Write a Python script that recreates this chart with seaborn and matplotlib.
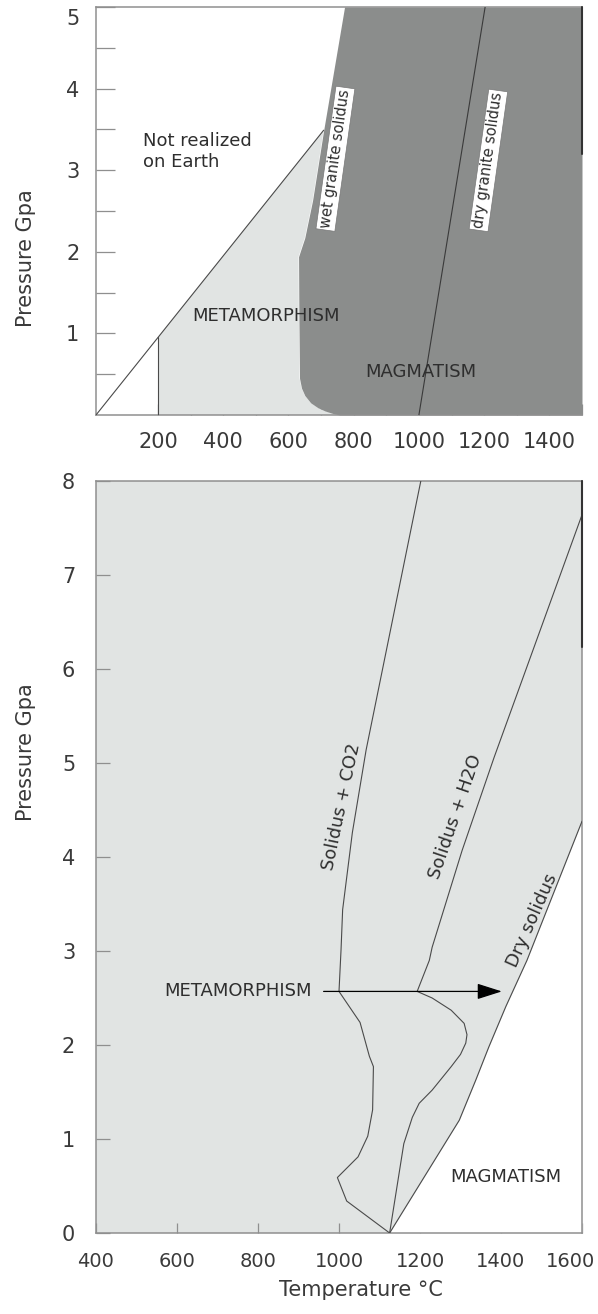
import numpy as np
import matplotlib
matplotlib.use("Agg")
import matplotlib.pyplot as plt
import matplotlib.transforms as mtransforms
import seaborn as sns

# ---- top panel: granite system (T in C, P in GPa) ----
top_major_t = [200, 400, 600, 800, 1000, 1200, 1400]
top_minor_t = [300, 500, 700, 900, 1100, 1300, 1500]
top_major_p = [1, 2, 3, 4, 5]
top_minor_p = [0.5, 1.5, 2.5, 3.5, 4.5]

wet_t = [757, 735, 712, 690, 668, 650, 640, 634, 632, 631, 640, 650, 674, 708, 772]
wet_p = [0.0, 0.02, 0.05, 0.09, 0.15, 0.24, 0.33, 0.45, 1.2, 1.94, 2.05, 2.17, 2.63, 3.49, 5.0]
earth_t = [10, 708]
earth_p = [0.0, 3.49]
low_t = [200, 200]
low_p = [0.0, 0.95]
dry_granite_t = [1000, 1203]
dry_granite_p = [0.0, 5.0]

# ---- bottom panel: peridotite solidi ----
bot_t_ticks = [400, 600, 800, 1000, 1200, 1400, 1600]
bot_p_ticks = [0, 1, 2, 3, 4, 5, 6, 7, 8]

co2_t = [1125, 1019, 996, 1047, 1071, 1083, 1085, 1075, 1052, 1000, 1005, 1009, 1033, 1067, 1202]
co2_p = [0.0, 0.34, 0.59, 0.81, 1.03, 1.31, 1.77, 1.88, 2.24, 2.57, 3.01, 3.44, 4.26, 5.14, 8.0]
h2o_t = [1125, 1160, 1181, 1198, 1230, 1277, 1300, 1313, 1316, 1309, 1277, 1230, 1193, 1223, 1230, 1304, 1383, 1600]
h2o_p = [0.0, 0.95, 1.23, 1.38, 1.52, 1.77, 1.90, 2.02, 2.11, 2.23, 2.37, 2.50, 2.57, 2.90, 3.04, 4.07, 5.06, 7.64]
dry_t = [1125, 1297, 1338, 1370, 1412, 1464, 1600]
dry_p = [0.0, 1.2, 1.63, 1.98, 2.41, 2.9, 4.38]

arrow_t = [962, 1402]
arrow_p = 2.57

LIGHT = "#e1e4e3"
DARK = "#8b8d8c"
LINE = "#4a4a4a"
TXT = "#2e2e2e"
SPINE = "#8f8f8f"
LBL = "#3a3a3a"

sns.set_theme(style="white")
plt.rcParams["font.family"] = ["DejaVu Sans"]

fig = plt.figure(figsize=(5.98, 13.14), dpi=100)
ax1 = fig.add_axes([96 / 598, 1 - 415 / 1314, 486 / 598, 408 / 1314])
ax2 = fig.add_axes([96 / 598, 1 - 1233 / 1314, 486 / 598, 752 / 1314])


def nudge(label, dx_px, dy_px):
    off = mtransforms.ScaledTranslation(dx_px / 100, dy_px / 100, fig.dpi_scale_trans)
    label.set_transform(label.get_transform() + off)


# ---------------- top panel ----------------
ax1.set_xlim(10, 1500)
ax1.set_ylim(0, 5)
ax1.set_facecolor("white")

# metamorphism field (between T=200, the earth limit and the wet solidus)
meta_t = np.concatenate([low_t, [earth_t[1]], wet_t[::-1][1:]])
meta_p = np.concatenate([low_p, [earth_p[1]], wet_p[::-1][1:]])
ax1.fill(meta_t, meta_p, color=LIGHT, lw=0, zorder=1)
# magmatism field
ax1.fill_betweenx(wet_p, wet_t, 1500, color=DARK, lw=0, zorder=2)

sns.lineplot(x=earth_t, y=earth_p, ax=ax1, color=LINE, lw=0.8, zorder=3)
sns.lineplot(x=low_t, y=low_p, ax=ax1, color=LINE, lw=0.8, zorder=3, sort=False, estimator=None)
sns.lineplot(x=dry_granite_t, y=dry_granite_p, ax=ax1, color="#3a3a3a", lw=0.8, zorder=3)
ax1.plot([1500, 1500], [3.2, 5], color="#333333", lw=1.5, zorder=4, clip_on=False)

ax1.text(153, 3.47, "Not realized\non Earth", ha="left", va="top", fontsize=13,
         color=TXT, linespacing=1.25)
ax1.text(532, 1.21, "METAMORPHISM", ha="center", va="center", fontsize=13, color=TXT, zorder=5)
ax1.text(1005, 0.53, "MAGMATISM", ha="center", va="center", fontsize=13, color=TXT, zorder=5)
box = dict(facecolor="white", edgecolor="#777777", lw=0.5, pad=1.5)
ax1.text(744, 3.14, "wet granite solidus", rotation=82, ha="center", va="center",
         fontsize=10.5, color=TXT, bbox=box, rotation_mode="anchor", zorder=5)
ax1.text(1213, 3.12, "dry granite solidus", rotation=82, ha="center", va="center",
         fontsize=10.5, color=TXT, bbox=box, rotation_mode="anchor", zorder=5)

ax1.set_xticks(top_major_t)
ax1.set_xticks(top_minor_t, minor=True)
ax1.set_yticks(top_major_p)
ax1.set_yticks(top_minor_p, minor=True)
ax1.tick_params(axis="x", which="both", direction="in", length=8, width=0.9,
                color=SPINE, labelcolor=LBL, labelsize=15, pad=12, bottom=True)
ax1.tick_params(axis="y", which="both", direction="in", length=14, width=0.9,
                color=SPINE, labelcolor=LBL, labelsize=15, pad=12, left=True)
for side in ["top", "bottom", "left"]:
    ax1.spines[side].set_color(SPINE)
    ax1.spines[side].set_linewidth(1.1)
ax1.spines["right"].set_visible(False)
ax1.set_xlabel("")
ax1.set_ylabel("Pressure Gpa", fontsize=15, color=LBL)
ax1.yaxis.set_label_coords(-0.123, 0.385)
nudge(ax1.get_yticklabels()[-1], 0, -10)

# ---------------- bottom panel ----------------
ax2.set_xlim(400, 1600)
ax2.set_ylim(0, 8)
ax2.set_facecolor(LIGHT)
ax2.fill_betweenx(dry_p, dry_t, 1600, color="white", lw=0, zorder=1)

sns.lineplot(x=co2_t, y=co2_p, ax=ax2, color=LINE, lw=0.8, sort=False, estimator=None, zorder=3)
sns.lineplot(x=h2o_t, y=h2o_p, ax=ax2, color=LINE, lw=0.8, sort=False, estimator=None, zorder=3)
sns.lineplot(x=dry_t, y=dry_p, ax=ax2, color=LINE, lw=0.8, sort=False, estimator=None, zorder=3)
ax2.plot([1600, 1600], [6.23, 8], color="#333333", lw=1.5, zorder=4, clip_on=False)

ax2.annotate("", xy=(arrow_t[1], arrow_p), xytext=(arrow_t[0], arrow_p),
             arrowprops=dict(arrowstyle="-|>,head_length=1.1,head_width=0.35",
                             mutation_scale=14, color="black", lw=0.9,
                             shrinkA=0, shrinkB=0), zorder=5)

ax2.text(750, 2.57, "METAMORPHISM", ha="center", va="center", fontsize=13, color=TXT)
ax2.text(1412, 0.6, "MAGMATISM", ha="center", va="center", fontsize=13, color=TXT)
ax2.text(1006, 4.54, "Solidus + CO2", rotation=78, ha="center", va="center",
         rotation_mode="anchor", fontsize=13, color=TXT)
ax2.text(1287, 4.43, "Solidus + H2O", rotation=71, ha="center", va="center",
         rotation_mode="anchor", fontsize=13, color=TXT)
ax2.text(1476, 3.33, "Dry solidus", rotation=66, ha="center", va="center",
         rotation_mode="anchor", fontsize=13, color=TXT)

ax2.set_xticks(bot_t_ticks)
ax2.set_yticks(bot_p_ticks)
ax2.tick_params(axis="x", direction="in", length=7, width=0.9, color=SPINE,
                labelcolor=LBL, labelsize=14, pad=14, bottom=True)
ax2.tick_params(axis="y", direction="in", length=10, width=0.9, color=SPINE,
                labelcolor=LBL, labelsize=15, pad=15, left=True)
for side in ["top", "bottom", "left", "right"]:
    ax2.spines[side].set_color(SPINE)
    ax2.spines[side].set_linewidth(1.1)
ax2.set_xlabel("Temperature °C", fontsize=15, color=LBL)
ax2.xaxis.set_label_coords(0.545, -0.062)
ax2.set_ylabel("Pressure Gpa", fontsize=15, color=LBL)
ax2.yaxis.set_label_coords(-0.123, 0.64)
nudge(ax2.get_xticklabels()[-1], -12, 0)

fig.savefig("out.png", dpi=100)
